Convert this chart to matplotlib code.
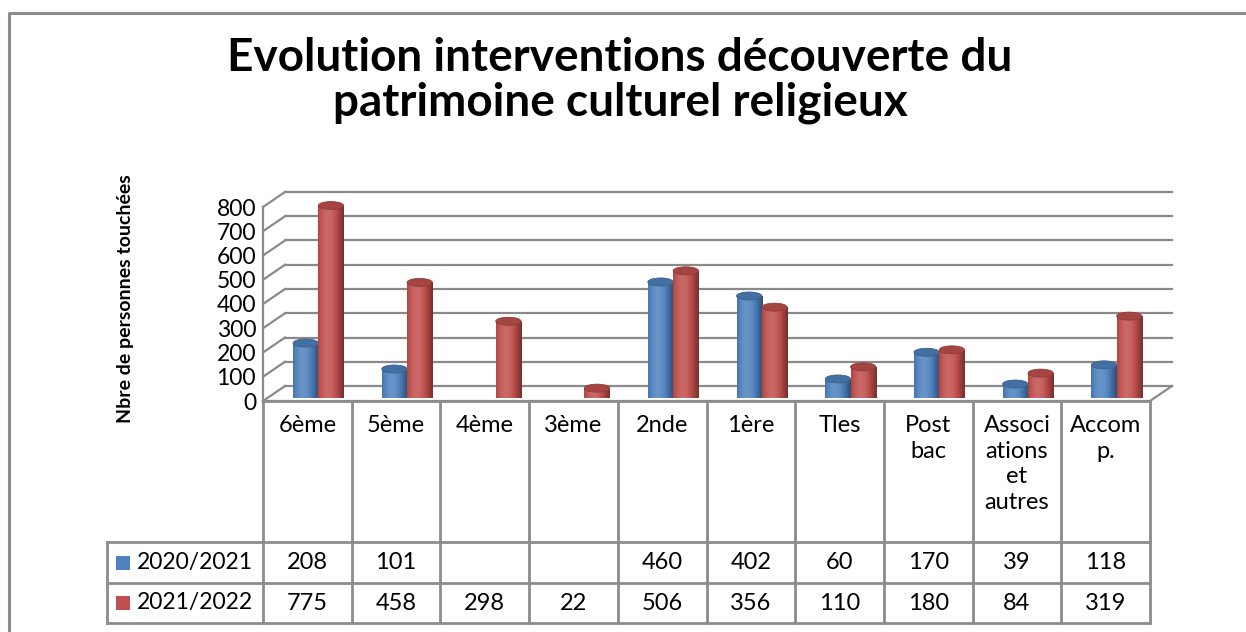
import numpy as np
import matplotlib
matplotlib.use('Agg')
import matplotlib.pyplot as plt
from matplotlib.patches import PathPatch, Ellipse, Rectangle
from matplotlib.path import Path
from matplotlib.colors import to_rgb

# data
categories = ['6ème', '5ème', '4ème', '3ème', '2nde', '1ère', 'Tles', 'Post\nbac',
              'Associ\nations\net\nautres', 'Accom\np.']
series_names = ['2020/2021', '2021/2022']
vals_2020 = [208, 101, None, None, 460, 402, 60, 170, 39, 118]
vals_2021 = [775, 458, 298, 22, 506, 356, 110, 180, 84, 319]
yticks = [0, 100, 200, 300, 400, 500, 600, 700, 800]
colors = ['#4F81BD', '#C0504D']

plt.rcParams['font.family'] = ['Lato', 'DejaVu Sans']

W, H = 1246, 632
fig = plt.figure(figsize=(W / 100, H / 100), dpi=100)


def fx(x):
    return x / W


def fy(y):
    return 1 - y / H


# front face of the plot box, in pixels
X0, X1 = 263, 1150
Y_ZERO, Y_TOP = 401, 207
n = len(categories)
ax = fig.add_axes([fx(X0), fy(Y_ZERO), fx(X1 - X0), fy(Y_TOP) - fy(Y_ZERO)])
ax.set_xlim(-0.5, n - 0.5)
ax.set_ylim(0, 800)
for s in ax.spines.values():
    s.set_visible(False)
ax.set_xticks([])
ax.set_yticks(yticks)
ax.tick_params(axis='y', length=0, pad=5, labelsize=16.5)
ax.patch.set_visible(False)

# depth offset of back wall, in data units
px_x = n / (X1 - X0)
px_y = 800 / (Y_ZERO - Y_TOP)
DX, DY = 22 * px_x, 15 * px_y
grid_c = '#8A8A8A'

# back wall gridlines + side wall diagonals
for v in yticks:
    ax.plot([-0.5 + DX, n - 0.5 + DX], [v + DY, v + DY], color=grid_c, lw=1.6,
            clip_on=False, zorder=1)
    ax.plot([-0.5, -0.5 + DX], [v, v + DY], color=grid_c, lw=1.6, clip_on=False, zorder=1)
ax.plot([-0.5, -0.5], [0, 800], color=grid_c, lw=1.6, clip_on=False, zorder=1)
# floor
ax.plot([n - 0.5, n - 0.5 + DX], [0, DY], color=grid_c, lw=1.6, clip_on=False, zorder=1)
ax.plot([-0.5, n - 0.5], [0, 0], color=grid_c, lw=1.6, clip_on=False, zorder=1)


def shade_img(base):
    t = np.linspace(0, 1, 64)
    f = 0.78 + 0.38 * np.cos(np.pi * (t - 0.38) * 1.05)
    rgb = np.array(to_rgb(base))
    out = []
    for k in f:
        if k <= 1:
            c = rgb * k
        else:
            c = rgb + (1 - rgb) * (k - 1) * 0.9
        out.append(np.clip(c, 0, 1))
    return np.array(out)[None, :, :]


bw = 0.285
eh = 8 * px_y
theta = np.linspace(np.pi, 2 * np.pi, 40)
for si, vals in enumerate([vals_2020, vals_2021]):
    img = shade_img(colors[si])
    for i, v in enumerate(vals):
        if v is None:
            continue
        xc = i + DX / 2 + (si - 0.5) * bw
        yb = DY / 2
        x0, x1 = xc - bw / 2, xc + bw / 2
        top = yb + v
        verts = [(x0, top)]
        verts += [(xc + bw / 2 * np.cos(a), yb + eh / 2 * np.sin(a)) for a in theta]
        verts += [(x1, top), (x0, top)]
        clip = PathPatch(Path(verts, closed=True), transform=ax.transData)
        im = ax.imshow(img, extent=(x0, x1, yb - eh / 2, top), aspect='auto',
                       interpolation='bilinear', zorder=3 + si, clip_on=False)
        im.set_clip_path(clip)
        tc = np.array(to_rgb(colors[si])) * 0.86
        ax.add_patch(Ellipse((xc, top), bw, eh, facecolor=tc,
                             edgecolor=np.array(to_rgb(colors[si])) * 0.75,
                             lw=0.6, zorder=3 + si, clip_on=False))

ax.set_xlim(-0.5, n - 0.5)
ax.set_ylim(0, 800)

# overlay in pixel coordinates for table, title, labels, border
ov = fig.add_axes([0, 0, 1, 1])
ov.set_xlim(0, W)
ov.set_ylim(H, 0)
ov.axis('off')

ov.plot([9, 9, W + 5], [H + 5, 13, 13], color='#8C8C8C', lw=2.2, clip_on=False)

ov.text(620, 58, 'Evolution interventions découverte du', ha='center', va='center',
        fontsize=33, fontweight='bold')
ov.text(620, 103, 'patrimoine culturel religieux', ha='center', va='center',
        fontsize=33, fontweight='bold')
ov.text(125, 299, 'Nbre de personnes touchées', ha='center', va='center', rotation=90,
        fontsize=14, fontweight='bold')

# data table
tab_c = '#8C8C8C'
T_TOP, R1, R2, R3 = 401, 542, 583, 623
L0 = 107
cw = (X1 - X0) / n
edges = [X0 + k * cw for k in range(n + 1)]
for e in edges:
    ov.plot([e, e], [T_TOP, R3], color=tab_c, lw=2, solid_capstyle='projecting')
ov.plot([L0, L0], [R1, R3], color=tab_c, lw=2, solid_capstyle='projecting')
ov.plot([X0, X1], [T_TOP, T_TOP], color=tab_c, lw=2)
for r in [R1, R2, R3]:
    ov.plot([L0, X1], [r, r], color=tab_c, lw=2, solid_capstyle='projecting')

for i, c in enumerate(categories):
    ov.text(X0 + (i + 0.5) * cw, T_TOP + 14, c, ha='center', va='top', fontsize=17,
            linespacing=1.27)

for si, vals in enumerate([vals_2020, vals_2021]):
    yc = (R1 + R2) / 2 if si == 0 else (R2 + R3) / 2
    ov.add_patch(Rectangle((116, yc - 7), 14, 14, facecolor=colors[si], edgecolor='none'))
    ov.text(137, yc, series_names[si], ha='left', va='center', fontsize=16.5)
    for i, v in enumerate(vals):
        if v is None:
            continue
        ov.text(X0 + (i + 0.5) * cw, yc, str(v), ha='center', va='center', fontsize=17)

fig.savefig('out.png', dpi=100, facecolor='white')
